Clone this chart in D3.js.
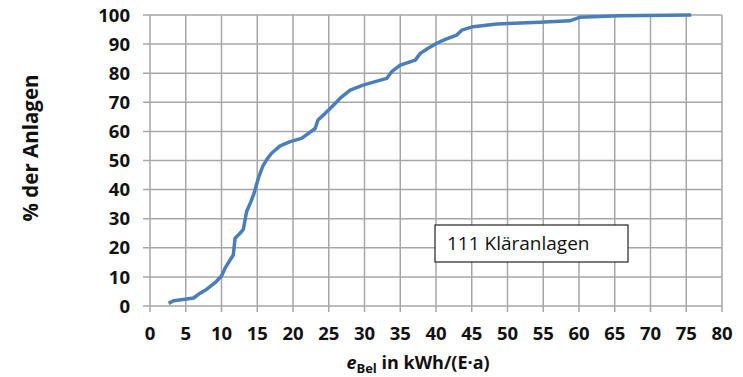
<!DOCTYPE html>
<html>
<head>
<meta charset="utf-8">
<script src="https://cdn.jsdelivr.net/npm/d3@7"></script>
<style>
  body { margin: 0; background: #fff; }
  svg { display: block; }
  text { font-family: "Open Sans", sans-serif; fill: #111; }
</style>
</head>
<body>
<div id="chart"></div>
<script>
// Verteilung e_Bel (kWh/(E·a)) vs. % der Anlagen
const eBel = [2.6, 3.3, 4.9, 6.1, 7.0, 7.9, 9.1, 10.0, 10.5, 11.2, 11.65, 11.9, 12.6, 13.05, 13.5, 14.1, 14.55, 15.15, 15.75, 16.3, 17.0, 18.2, 19.6, 21.2, 23.1, 23.5, 24.5, 25.2, 26.6, 28.0, 29.8, 31.5, 33.1, 33.8, 35.0, 37.1, 37.8, 38.9, 40.1, 41.3, 42.9, 43.6, 45.2, 48.5, 54.5, 58.7, 60.1, 65.7, 75.7];
const anteil = [0.9, 1.8, 2.3, 2.75, 4.4, 5.7, 8.0, 10.3, 13.0, 15.8, 17.5, 23.3, 25.0, 26.3, 32.4, 35.8, 38.7, 43.9, 47.9, 50.2, 52.5, 55.0, 56.5, 57.6, 61.0, 63.9, 66.2, 67.9, 71.4, 74.2, 75.9, 77.1, 78.2, 80.5, 82.8, 84.5, 86.8, 88.6, 90.3, 91.6, 93.1, 94.8, 96.0, 96.9, 97.5, 98.0, 99.2, 99.7, 100];
const xTicks = d3.range(0, 81, 5);
const yTicks = d3.range(0, 101, 10);
const legendText = "111 Kläranlagen";

const width = 743, height = 377;
const margin = {left: 150, right: 21, top: 15, bottom: 71};

const svg = d3.select("#chart").append("svg")
    .attr("width", width)
    .attr("height", height);

const x = d3.scaleLinear().domain([0, 80]).range([margin.left, width - margin.right]);
const y = d3.scaleLinear().domain([0, 100]).range([height - margin.bottom, margin.top]);

// grid
svg.append("g")
    .selectAll("line.v")
    .data(xTicks)
    .join("line")
    .attr("x1", d => x(d)).attr("x2", d => x(d))
    .attr("y1", y(100)).attr("y2", y(0) + 6)
    .attr("stroke", "#a6a6a6").attr("stroke-width", 1.5);

svg.append("g")
    .selectAll("line.h")
    .data(yTicks)
    .join("line")
    .attr("x1", x(0) - 7).attr("x2", x(80))
    .attr("y1", d => y(d)).attr("y2", d => y(d))
    .attr("stroke", "#a6a6a6").attr("stroke-width", 1.5);

// tick labels
svg.append("g")
    .selectAll("text")
    .data(yTicks)
    .join("text")
    .attr("x", x(0) - 20)
    .attr("y", d => y(d))
    .attr("dy", "0.36em")
    .attr("text-anchor", "end")
    .attr("font-size", 18.5)
    .attr("font-weight", "bold")
    .text(d => d);

svg.append("g")
    .selectAll("text")
    .data(xTicks)
    .join("text")
    .attr("x", d => x(d))
    .attr("y", y(0) + 34)
    .attr("text-anchor", "middle")
    .attr("font-size", 18.5)
    .attr("font-weight", "bold")
    .text(d => d);

// axis titles
const xt = svg.append("text")
    .attr("x", 418)
    .attr("y", 369)
    .attr("text-anchor", "middle")
    .attr("font-size", 18)
    .attr("font-weight", "bold");
xt.append("tspan").attr("font-style", "italic").text("e");
xt.append("tspan").attr("font-size", 13).attr("dy", 4).text("Bel");
xt.append("tspan").attr("dy", -4).text(" in kWh/(E·a)");

svg.append("text")
    .attr("transform", `translate(38,148) rotate(-90)`)
    .attr("text-anchor", "middle")
    .attr("font-size", 20.5)
    .attr("font-weight", "bold")
    .text("% der Anlagen");

// curve
const line = d3.line()
    .x((d, i) => x(eBel[i]))
    .y(d => y(d));

svg.append("path")
    .datum(anteil)
    .attr("fill", "none")
    .attr("stroke", "#4a7ebb")
    .attr("stroke-width", 3.5)
    .attr("stroke-linejoin", "round")
    .attr("d", line);

// legend box
svg.append("rect")
    .attr("x", 435).attr("y", 225)
    .attr("width", 193).attr("height", 37)
    .attr("fill", "#fff")
    .attr("stroke", "#222")
    .attr("stroke-width", 1.2);

svg.append("text")
    .attr("x", 447).attr("y", 243.5)
    .attr("dy", "0.36em")
    .attr("font-size", 19)
    .text(legendText);
</script>
</body>
</html>
